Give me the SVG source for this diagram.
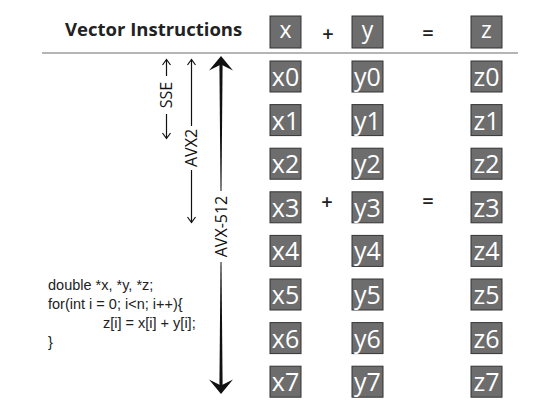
<svg xmlns="http://www.w3.org/2000/svg" width="560" height="400" viewBox="0 0 560 400">
<defs>
<style>
.box{fill:#6d6d6d;stroke:#333;stroke-width:1}
.lbl{font-family:"Open Sans","DejaVu Sans",sans-serif;font-size:25px;fill:#fff;text-anchor:middle}
.hlbl{font-family:"Open Sans","DejaVu Sans",sans-serif;font-size:23px;fill:#fff;text-anchor:middle}
.op{font-family:"Open Sans","DejaVu Sans",sans-serif;font-size:20px;font-weight:600;fill:#222;text-anchor:middle}
.ax{font-family:"Open Sans","DejaVu Sans",sans-serif;font-size:16px;fill:#111;text-anchor:middle}
.code{font-family:"Liberation Sans",Arial,sans-serif;font-size:14.5px;fill:#222}
.thin{stroke:#111;stroke-width:1.2;fill:none}
</style>
</defs>
<rect width="560" height="400" fill="#fff"/>
<text x="65" y="36" font-family="'Open Sans','DejaVu Sans',sans-serif" font-size="18.5" font-weight="bold" fill="#222">Vector Instructions</text>
<line x1="42" y1="53" x2="518" y2="53" stroke="#b5b5b5" stroke-width="2"/>

<g id="header">
<rect class="box" x="270" y="16" width="31" height="32"/><text class="hlbl" x="285.5" y="38">x</text>
<text class="op" x="328" y="41">+</text>
<rect class="box" x="352" y="16" width="31" height="32"/><text class="hlbl" x="367.5" y="38">y</text>
<text class="op" x="428" y="40">=</text>
<rect class="box" x="471" y="16" width="31" height="32"/><text class="hlbl" x="486.5" y="38">z</text>
</g>

<g id="row0"><rect class="box" x="270" y="61" width="31" height="31"/><text class="lbl" x="285.5" y="86">x0</text><rect class="box" x="352" y="61" width="31" height="31"/><text class="lbl" x="367.5" y="86">y0</text><rect class="box" x="471" y="61" width="31" height="31"/><text class="lbl" x="486.5" y="86">z0</text></g>
<g id="row1"><rect class="box" x="270" y="104.6" width="31" height="31"/><text class="lbl" x="285.5" y="129.6">x1</text><rect class="box" x="352" y="104.6" width="31" height="31"/><text class="lbl" x="367.5" y="129.6">y1</text><rect class="box" x="471" y="104.6" width="31" height="31"/><text class="lbl" x="486.5" y="129.6">z1</text></g>
<g id="row2"><rect class="box" x="270" y="148.2" width="31" height="31"/><text class="lbl" x="285.5" y="173.2">x2</text><rect class="box" x="352" y="148.2" width="31" height="31"/><text class="lbl" x="367.5" y="173.2">y2</text><rect class="box" x="471" y="148.2" width="31" height="31"/><text class="lbl" x="486.5" y="173.2">z2</text></g>
<g id="row3"><rect class="box" x="270" y="191.8" width="31" height="31"/><text class="lbl" x="285.5" y="216.8">x3</text><text class="op" x="327" y="209">+</text><rect class="box" x="352" y="191.8" width="31" height="31"/><text class="lbl" x="367.5" y="216.8">y3</text><text class="op" x="428" y="208">=</text><rect class="box" x="471" y="191.8" width="31" height="31"/><text class="lbl" x="486.5" y="216.8">z3</text></g>
<g id="row4"><rect class="box" x="270" y="235.4" width="31" height="31"/><text class="lbl" x="285.5" y="260.4">x4</text><rect class="box" x="352" y="235.4" width="31" height="31"/><text class="lbl" x="367.5" y="260.4">y4</text><rect class="box" x="471" y="235.4" width="31" height="31"/><text class="lbl" x="486.5" y="260.4">z4</text></g>
<g id="row5"><rect class="box" x="270" y="279" width="31" height="31"/><text class="lbl" x="285.5" y="304">x5</text><rect class="box" x="352" y="279" width="31" height="31"/><text class="lbl" x="367.5" y="304">y5</text><rect class="box" x="471" y="279" width="31" height="31"/><text class="lbl" x="486.5" y="304">z5</text></g>
<g id="row6"><rect class="box" x="270" y="322.6" width="31" height="31"/><text class="lbl" x="285.5" y="347.6">x6</text><rect class="box" x="352" y="322.6" width="31" height="31"/><text class="lbl" x="367.5" y="347.6">y6</text><rect class="box" x="471" y="322.6" width="31" height="31"/><text class="lbl" x="486.5" y="347.6">z6</text></g>
<g id="row7"><rect class="box" x="270" y="366.2" width="31" height="31"/><text class="lbl" x="285.5" y="391.2">x7</text><rect class="box" x="352" y="366.2" width="31" height="31"/><text class="lbl" x="367.5" y="391.2">y7</text><rect class="box" x="471" y="366.2" width="31" height="31"/><text class="lbl" x="486.5" y="391.2">z7</text></g>

<g id="connectors">
<g id="sse">
<path class="thin" d="M166.5,60 V76 M166.5,114 V138 M162.5,65 L166.5,59.5 L170.5,65 M162.5,133 L166.5,138.5 L170.5,133"/>
<text class="ax" transform="translate(172,95) rotate(-90)">SSE</text>
</g>
<g id="avx2">
<path class="thin" d="M191.5,60 V126 M191.5,170 V222 M187.5,65 L191.5,59.5 L195.5,65 M187.5,217 L191.5,222.5 L195.5,217"/>
<text class="ax" transform="translate(197,148) rotate(-90)">AVX2</text>
</g>
<g id="avx512">
<path d="M221,56 L233,70.5 L221,64.5 L209,70.5 Z" fill="#111"/>
<path d="M219.4,63 L222.6,63 L221.5,191 L220.5,191 Z" fill="#111"/>
<path d="M220.5,262 L221.5,262 L222.6,387 L219.4,387 Z" fill="#111"/>
<path d="M221,394 L233,379.5 L221,385.5 L209,379.5 Z" fill="#111"/>
<text class="ax" transform="translate(227,226.5) rotate(-90)">AVX-512</text>
</g>
</g>

<g id="code">
<text class="code" x="48" y="290">double *x, *y, *z;</text>
<text class="code" x="48" y="309">for(int i = 0; i&lt;n; i++){</text>
<text class="code" x="103" y="328">z[i] = x[i] + y[i];</text>
<text class="code" x="48" y="347">}</text>
</g>
</svg>
